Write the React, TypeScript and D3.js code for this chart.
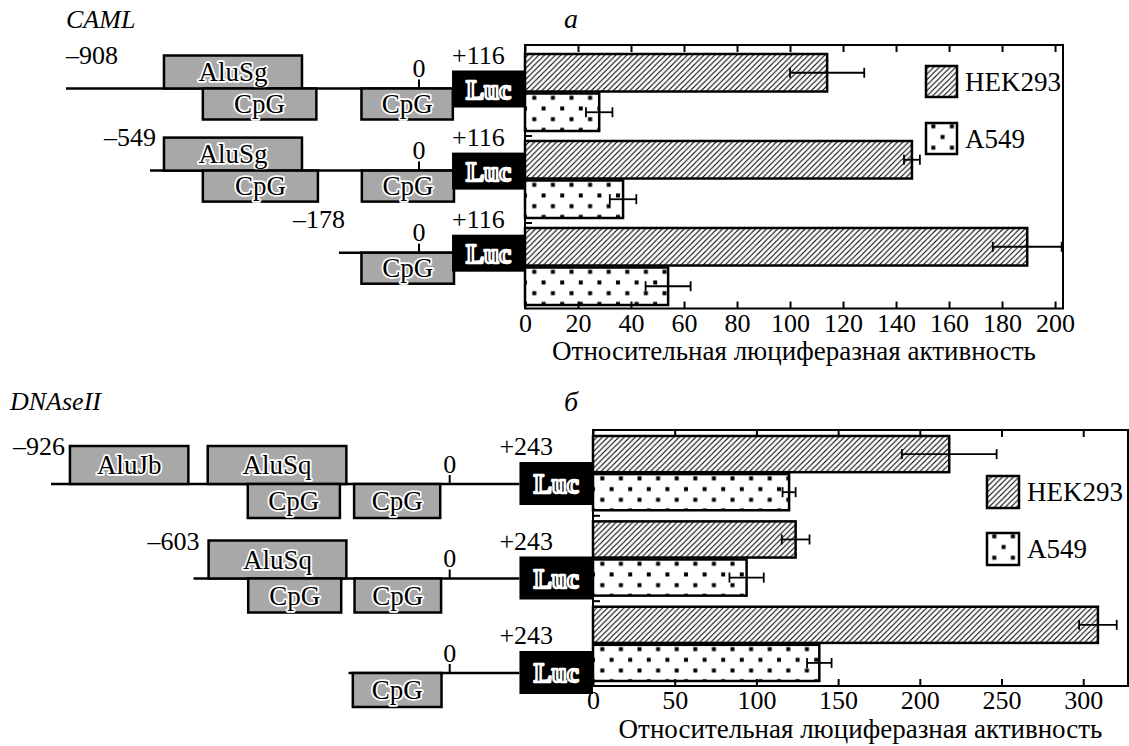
import React, { useEffect, useRef } from "react";
import * as d3 from "d3";

// ---- panel а: CAML ----
const constructsA = ["–908", "–549", "–178"];
const lineStartA = [-908, -692, -206];
const elementsA = [
  [
    { name: "AluSg", from: -656, to: -301, side: "up" },
    { name: "CpG", from: -556, to: -264, side: "down" },
    { name: "CpG", from: -148, to: 87, side: "down" },
  ],
  [
    { name: "AluSg", from: -656, to: -301, side: "up" },
    { name: "CpG", from: -556, to: -260, side: "down" },
    { name: "CpG", from: -147, to: 90, side: "down" },
  ],
  [{ name: "CpG", from: -148, to: 90, side: "down" }],
];
const lucStartA = 85;
const lucLabelA = "+116";
const hekA = [114, 146, 189.5];
const hekErrA = [14, 3, 13];
const a549A = [28, 37, 54];
const a549ErrA = [5, 5, 8.5];
const ticksA = [0, 20, 40, 60, 80, 100, 120, 140, 160, 180, 200];

// ---- panel б: DNAseII ----
const constructsB = ["–926", "–603", ""];
const lineStartB = [-926, -595, -235];
const elementsB = [
  [
    { name: "AluJb", from: -882, to: -607, side: "up" },
    { name: "AluSq", from: -562, to: -240, side: "up" },
    { name: "CpG", from: -469, to: -255, side: "down" },
    { name: "CpG", from: -222, to: -22, side: "down" },
  ],
  [
    { name: "AluSq", from: -560, to: -240, side: "up" },
    { name: "CpG", from: -468, to: -252, side: "down" },
    { name: "CpG", from: -221, to: -20, side: "down" },
  ],
  [{ name: "CpG", from: -225, to: -19, side: "down" }],
];
const lucStartB = 162;
const lucLabelB = "+243";
const hekB = [218, 124, 309];
const hekErrB = [29, 8.5, 11.5];
const a549B = [120, 94, 138.5];
const a549ErrB = [4, 10.5, 7.5];
const ticksB = [0, 50, 100, 150, 200, 250, 300];

const seriesNames = ["HEK293", "A549"];
const axisTitle = "Относительная люциферазная активность";

const FONT = "'Liberation Serif', 'Times New Roman', serif";
const GRAY = "#a8a8a8";

const panels = [
  {
    key: "a",
    gene: "CAML",
    letter: "а",
    constructs: constructsA,
    lineStart: lineStartA,
    elements: elementsA,
    lucStart: lucStartA,
    lucLabel: lucLabelA,
    hek: hekA,
    hekErr: hekErrA,
    a549: a549A,
    a549Err: a549ErrA,
    ticks: ticksA,
    xMax: 203,
    // layout
    plot: { left: 525, right: 1063, top: 45, bottom: 308.5 },
    bars: [54, 305],
    pad: 0.115,
    sch: { d0: -908, r0: 66, r1: 419 },
    rows: [88.5, 252.7],
    upH: 33,
    downH: 31,
    luc: [-18, 19],
    labelUp: 25,
    lucLabelDx: 0,
    geneXY: [66, 28],
    letterXY: [564, 28],
    titleY: 360,
    legend: { dx: -137, dy: 21, gap: 57, size: 31 },
  },
  {
    key: "b",
    gene: "DNAseII",
    letter: "б",
    constructs: constructsB,
    lineStart: lineStartB,
    elements: elementsB,
    lucStart: lucStartB,
    lucLabel: lucLabelB,
    hek: hekB,
    hekErr: hekErrB,
    a549: a549B,
    a549Err: a549ErrB,
    ticks: ticksB,
    xMax: 327.4,
    plot: { left: 593, right: 1128, top: 430, bottom: 686 },
    bars: [436, 681],
    pad: 0.13,
    sch: { d0: -926, r0: 51, r1: 449.7 },
    rows: [484, 673],
    upH: 38,
    downH: 34,
    luc: [-22, 21],
    labelUp: 29,
    lucLabelDx: -20,
    geneXY: [10, 410],
    letterXY: [564, 411],
    titleY: 738,
    legend: { dx: -141, dy: 46, gap: 57, size: 32 },
  },
];

export default function App() {
  const svgRef = useRef(null);
  const width = 1129;
  const height = 746;

  useEffect(() => {
    const svg = d3.select(svgRef.current);
    svg.selectAll("*").remove();
    const defs = svg.append("defs");

    // Hatch pattern
    const hatch = defs
      .append("pattern")
      .attr("id", "hatch")
      .attr("patternUnits", "userSpaceOnUse")
      .attr("width", 5.5)
      .attr("height", 5.5);
    hatch
      .append("path")
      .attr("d", "M-1,1 l2,-2 M0,5.5 l5.5,-5.5 M4.5,6.5 l2,-2")
      .attr("stroke", "#000")
      .attr("stroke-width", 1.1);

    // Dots pattern, anchored at a given corner
    let dotId = 0;
    const dots = (x, y) => {
      const id = `dots-${dotId++}`;
      const p = defs
        .append("pattern")
        .attr("id", id)
        .attr("patternUnits", "userSpaceOnUse")
        .attr("x", x)
        .attr("y", y)
        .attr("width", 18.6)
        .attr("height", 21.4);
      [
        [9.3, 4.3],
        [0, 15],
        [18.6, 15],
      ].forEach(([cx, cy]) =>
        p
          .append("rect")
          .attr("x", cx - 2)
          .attr("y", cy - 2)
          .attr("width", 4)
          .attr("height", 4)
          .attr("fill", "#000")
      );
      return `url(#${id})`;
    };

    panels.forEach((P) => {
      const g = svg.append("g");
      const { left, right, top, bottom } = P.plot;

      // Scales
      const x = d3.scaleLinear().domain([0, P.xMax]).range([left, right]);
      const y = d3
        .scaleBand()
        .domain(d3.range(P.hek.length))
        .range(P.bars)
        .paddingInner(P.pad);
      const yInner = d3
        .scaleBand()
        .domain(seriesNames)
        .range([0, y.bandwidth()])
        .paddingInner(0.05);
      const xs = d3
        .scaleLinear()
        .domain([P.sch.d0, 0])
        .range([P.sch.r0, P.sch.r1]);
      const rowY = d3
        .scalePoint()
        .domain(d3.range(P.constructs.length))
        .range(P.rows);

      // Bars
      const barData = [];
      P.hek.forEach((v, i) => {
        barData.push({ i, s: "HEK293", v, e: P.hekErr[i] });
        barData.push({ i, s: "A549", v: P.a549[i], e: P.a549Err[i] });
      });

      barData.forEach((d) => {
        const by = y(d.i) + yInner(d.s);
        const bh = yInner.bandwidth();
        g.append("rect")
          .attr("x", x(0))
          .attr("y", by)
          .attr("width", x(d.v) - x(0))
          .attr("height", bh)
          .attr("fill", d.s === "HEK293" ? "url(#hatch)" : dots(x(0), by))
          .attr("stroke", "#000")
          .attr("stroke-width", 2.5);
      });

      // Error bars
      barData.forEach((d) => {
        const cy = y(d.i) + yInner(d.s) + yInner.bandwidth() / 2;
        const x1 = x(d.v - d.e);
        const x2 = x(d.v + d.e);
        g.append("line")
          .attr("x1", x1)
          .attr("x2", x2)
          .attr("y1", cy)
          .attr("y2", cy)
          .attr("stroke", "#000")
          .attr("stroke-width", 1.8);
        [x1, x2].forEach((xx) =>
          g
            .append("line")
            .attr("x1", xx)
            .attr("x2", xx)
            .attr("y1", cy - 5)
            .attr("y2", cy + 5)
            .attr("stroke", "#000")
            .attr("stroke-width", 1.8)
        );
      });

      // Frame
      g.append("rect")
        .attr("x", left)
        .attr("y", top)
        .attr("width", right - left)
        .attr("height", bottom - top)
        .attr("fill", "none")
        .attr("stroke", "#000")
        .attr("stroke-width", 2);

      // Axes (inward ticks)
      const axB = g
        .append("g")
        .attr("transform", `translate(0,${bottom})`)
        .call(
          d3
            .axisBottom(x)
            .tickValues(P.ticks)
            .tickSizeInner(-7)
            .tickSizeOuter(0)
            .tickPadding(5)
        );
      axB.select(".domain").remove();
      axB.attr("font-family", FONT).attr("font-size", 26);
      axB.selectAll("line").attr("stroke-width", 2);
      axB.selectAll("text").attr("fill", "#000");

      const axT = g
        .append("g")
        .attr("transform", `translate(0,${top})`)
        .call(
          d3
            .axisTop(x)
            .tickValues(P.ticks)
            .tickSizeInner(-7)
            .tickSizeOuter(0)
            .tickFormat(() => "")
        );
      axT.select(".domain").remove();
      axT.selectAll("line").attr("stroke-width", 2);

      // Left ticks between groups
      d3.range(P.hek.length - 1).forEach((i) => {
        const ty = (y(i) + y.bandwidth() + y(i + 1)) / 2;
        g.append("line")
          .attr("x1", left)
          .attr("x2", left + 7)
          .attr("y1", ty)
          .attr("y2", ty)
          .attr("stroke", "#000")
          .attr("stroke-width", 2);
      });

      // Axis title
      g.append("text")
        .attr("x", (left + right) / 2)
        .attr("y", P.titleY)
        .attr("text-anchor", "middle")
        .attr("font-family", FONT)
        .attr("font-size", 27)
        .text(axisTitle);

      // Legend
      const L = P.legend;
      seriesNames.forEach((s, k) => {
        const lx = right + L.dx;
        const ly = top + L.dy + k * L.gap;
        g.append("rect")
          .attr("x", lx)
          .attr("y", ly)
          .attr("width", L.size)
          .attr("height", L.size)
          .attr("fill", s === "HEK293" ? "url(#hatch)" : dots(lx - 2, ly - 1))
          .attr("stroke", "#000")
          .attr("stroke-width", 2.5);
        g.append("text")
          .attr("x", lx + L.size + 8)
          .attr("y", ly + L.size / 2 + 9)
          .attr("font-family", FONT)
          .attr("font-size", 27)
          .text(s);
      });

      // Gene name and panel letter
      g.append("text")
        .attr("x", P.geneXY[0])
        .attr("y", P.geneXY[1])
        .attr("font-family", FONT)
        .attr("font-style", "italic")
        .attr("font-size", 26)
        .text(P.gene);
      g.append("text")
        .attr("x", P.letterXY[0])
        .attr("y", P.letterXY[1])
        .attr("font-family", FONT)
        .attr("font-style", "italic")
        .attr("font-size", 28)
        .text(P.letter);

      // Constructs schematic
      P.constructs.forEach((label, i) => {
        const ly = rowY(i);
        const x0 = xs(P.lineStart[i]);
        const xl = xs(P.lucStart);

        g.append("line")
          .attr("x1", x0)
          .attr("x2", xl)
          .attr("y1", ly)
          .attr("y2", ly)
          .attr("stroke", "#000")
          .attr("stroke-width", 2.5);

        P.elements[i].forEach((el) => {
          const up = el.side === "up";
          const h = up ? P.upH : P.downH;
          const ry = up ? ly - h : ly;
          g.append("rect")
            .attr("x", xs(el.from))
            .attr("y", ry)
            .attr("width", xs(el.to) - xs(el.from))
            .attr("height", h)
            .attr("fill", GRAY)
            .attr("stroke", "#000")
            .attr("stroke-width", 2.5);
          g.append("text")
            .attr("x", (xs(el.from) + xs(el.to)) / 2)
            .attr("y", ry + h / 2 + 9)
            .attr("text-anchor", "middle")
            .attr("font-family", FONT)
            .attr("font-size", 27)
            .attr("fill", "#000")
            .attr("stroke", "#fff")
            .attr("stroke-width", 3.5)
            .attr("stroke-linejoin", "round")
            .attr("paint-order", "stroke")
            .text(el.name);
        });

        // position 0 mark
        g.append("line")
          .attr("x1", xs(0))
          .attr("x2", xs(0))
          .attr("y1", ly)
          .attr("y2", ly - 9)
          .attr("stroke", "#000")
          .attr("stroke-width", 2);
        g.append("text")
          .attr("x", xs(0))
          .attr("y", ly - 11.5)
          .attr("text-anchor", "middle")
          .attr("font-family", FONT)
          .attr("font-size", 26)
          .text("0");

        // Luc box
        const lt = ly + P.luc[0];
        const lh = P.luc[1] - P.luc[0];
        g.append("rect")
          .attr("x", xl)
          .attr("y", lt)
          .attr("width", left - xl)
          .attr("height", lh)
          .attr("fill", "#000");
        g.append("text")
          .attr("x", (xl + left) / 2)
          .attr("y", lt + lh / 2 + 9.5)
          .attr("text-anchor", "middle")
          .attr("font-family", FONT)
          .attr("font-weight", "bold")
          .attr("font-size", 27)
          .attr("fill", "#000")
          .attr("stroke", "#fff")
          .attr("stroke-width", 2.4)
          .attr("stroke-linejoin", "round")
          .text("Luc");

        g.append("text")
          .attr("x", xl + P.lucLabelDx)
          .attr("y", ly - P.labelUp)
          .attr("font-family", FONT)
          .attr("font-size", 26)
          .text(P.lucLabel);

        if (label) {
          const startAnchored = P.key === "a" && i === 0;
          g.append("text")
            .attr("x", startAnchored ? x0 : x0 + (P.key === "b" && i === 0 ? 14 : 6))
            .attr("y", ly - P.labelUp)
            .attr("text-anchor", startAnchored ? "start" : "end")
            .attr("font-family", FONT)
            .attr("font-size", 26)
            .text(label);
        }
      });
    });
  }, []);

  return (
    <svg
      ref={svgRef}
      width={width}
      height={height}
      style={{ position: "absolute", left: 0, top: 0, background: "#fff" }}
    ></svg>
  );
}
